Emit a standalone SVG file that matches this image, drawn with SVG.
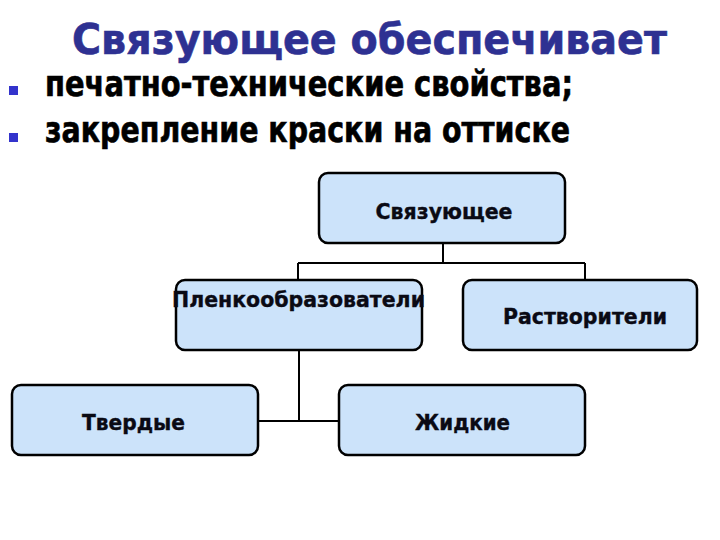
<svg xmlns="http://www.w3.org/2000/svg" width="720" height="540" viewBox="0 0 720 540">
<style>
.title{font-family:"DejaVu Sans","Verdana",sans-serif;font-weight:bold;fill:#2E3192;stroke:#2E3192;stroke-width:0.6;}
.bt{font-family:"DejaVu Sans",sans-serif;font-weight:bold;fill:#000;stroke:#000;stroke-width:0.7;}
.box{fill:#CCE3FA;stroke:#000;stroke-width:2.5;}
.lbl{font-family:"DejaVu Sans",sans-serif;font-weight:bold;font-size:22px;fill:#0a0a14;stroke:#0a0a14;stroke-width:0.4;}
.con{stroke:#000;stroke-width:2;fill:none;}
.bul{fill:#3333CC;}
</style>
<rect width="720" height="540" fill="#fff"/>
<text class="title" x="72" y="54" font-size="42" textLength="595" lengthAdjust="spacingAndGlyphs">Связующее обеспечивает</text>
<rect class="bul" x="9" y="86" width="9" height="9"/>
<text class="bt" x="45" y="96" font-size="36" textLength="528" lengthAdjust="spacingAndGlyphs">печатно-технические свойства;</text>
<rect class="bul" x="9" y="133" width="9" height="9"/>
<text class="bt" x="45" y="142" font-size="36" textLength="525" lengthAdjust="spacingAndGlyphs">закрепление краски на оттиске</text>
<g id="connectors">
<line class="con" x1="443" y1="243" x2="443" y2="263"/>
<line class="con" x1="298" y1="263" x2="585" y2="263"/>
<line class="con" x1="298" y1="263" x2="298" y2="280"/>
<line class="con" x1="585" y1="263" x2="585" y2="280"/>
<line class="con" x1="299" y1="350" x2="299" y2="421"/>
<line class="con" x1="258" y1="421" x2="339" y2="421"/>
</g>
<g id="n-svyaz">
<rect class="box" x="319" y="173" width="246" height="70" rx="9"/>
<text class="lbl" x="444" y="219" text-anchor="middle" textLength="137" lengthAdjust="spacingAndGlyphs">Связующее</text>
</g>
<g id="n-plenk">
<rect class="box" x="176" y="280" width="246" height="70" rx="9"/>
<text class="lbl" x="172" y="307" textLength="253" lengthAdjust="spacingAndGlyphs">Пленкообразователи</text>
</g>
<g id="n-rastv">
<rect class="box" x="463" y="280" width="234" height="70" rx="9"/>
<text class="lbl" x="503" y="324" textLength="164" lengthAdjust="spacingAndGlyphs">Растворители</text>
</g>
<g id="n-tverd">
<rect class="box" x="12" y="385" width="246" height="70" rx="9"/>
<text class="lbl" x="82" y="430" textLength="103" lengthAdjust="spacingAndGlyphs">Твердые</text>
</g>
<g id="n-zhidk">
<rect class="box" x="339" y="385" width="246" height="70" rx="9"/>
<text class="lbl" x="415" y="430" textLength="95" lengthAdjust="spacingAndGlyphs">Жидкие</text>
</g>
</svg>
